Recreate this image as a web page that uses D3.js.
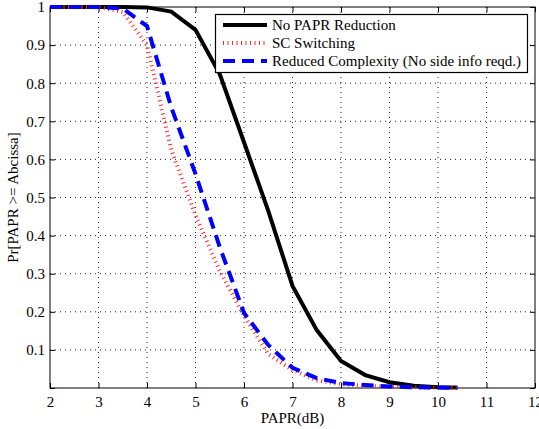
<!DOCTYPE html>
<html>
<head>
<meta charset="utf-8">
<title>PAPR CCDF</title>
<script src="https://cdn.jsdelivr.net/npm/d3@7"></script>
<style>
  body { margin: 0; background: #fff; }
  text { font-family: "Liberation Serif", "Times New Roman", serif; }
</style>
</head>
<body>
<script>
// data
var papr = [2, 2.5, 3, 3.5, 4, 4.5, 5, 5.5, 6, 6.5, 7, 7.5, 8, 8.5, 9, 9.5, 10, 10.4];
var noReduction = [1, 1, 1, 1, 0.999, 0.988, 0.94, 0.824, 0.645, 0.465, 0.268, 0.152, 0.071, 0.034, 0.015, 0.006, 0.002, 0.001];
var scSwitching = [1, 1, 1, 0.987, 0.9, 0.625, 0.454, 0.307, 0.19, 0.089, 0.047, 0.02, 0.01, 0.006, 0.003, 0.002, 0.001, 0];
var reducedCx = [1, 1, 1, 0.996, 0.95, 0.737, 0.562, 0.37, 0.197, 0.113, 0.053, 0.026, 0.013, 0.008, 0.004, 0.002, 0.001, 0];
var seriesNames = ["No PAPR Reduction", "SC Switching", "Reduced Complexity (No side info reqd.)"];
var xTicks = [2, 3, 4, 5, 6, 7, 8, 9, 10, 11, 12];
var yTicks = [0, 0.1, 0.2, 0.3, 0.4, 0.5, 0.6, 0.7, 0.8, 0.9, 1];

var margin = {top: 7, right: 4, bottom: 41, left: 50},
    W = 539, H = 429,
    width = W - margin.left - margin.right,
    height = H - margin.top - margin.bottom;

var svg = d3.select("body").append("svg")
  .attr("width", W).attr("height", H);

var g = svg.append("g")
  .attr("transform", "translate(" + margin.left + "," + margin.top + ")");

var x = d3.scaleLinear().domain([2, 12]).range([0, width]);
var y = d3.scaleLinear().domain([0, 1]).range([height, 0]);

// grid
g.append("g").selectAll("line").data(xTicks.slice(1, -1)).enter().append("line")
  .attr("x1", d => x(d)).attr("x2", d => x(d))
  .attr("y1", 0).attr("y2", height)
  .attr("stroke", "#222").attr("stroke-width", 1).attr("stroke-dasharray", "1,4");
g.append("g").selectAll("line").data(yTicks.slice(1, -1)).enter().append("line")
  .attr("y1", d => y(d)).attr("y2", d => y(d))
  .attr("x1", 0).attr("x2", width)
  .attr("stroke", "#222").attr("stroke-width", 1).attr("stroke-dasharray", "1,4");

// axes, ticks inward
var fmtY = d => d === 0 ? "" : (d === 1 ? "1" : d.toFixed(1));
g.append("g").attr("transform", "translate(0," + height + ")")
  .call(d3.axisBottom(x).tickValues(xTicks).tickSizeInner(-5).tickSizeOuter(0).tickPadding(8));
g.append("g")
  .call(d3.axisLeft(y).tickValues(yTicks).tickFormat(fmtY).tickSizeInner(-5).tickSizeOuter(0).tickPadding(5));
g.append("g")
  .call(d3.axisTop(x).tickValues(xTicks).tickFormat("").tickSizeInner(-5).tickSizeOuter(0));
g.append("g").attr("transform", "translate(" + width + ",0)")
  .call(d3.axisRight(y).tickValues(yTicks).tickFormat("").tickSizeInner(-5).tickSizeOuter(0));
g.selectAll(".domain").remove();
g.selectAll(".tick text").attr("font-size", 15).attr("fill", "#000")
  .attr("font-family", "'Liberation Serif', 'Times New Roman', serif");
g.selectAll(".tick line").attr("stroke", "#000");

g.append("rect").attr("width", width).attr("height", height)
  .attr("fill", "none").attr("stroke", "#000").attr("stroke-width", 1);

// curves
var line = d3.line().x((d, i) => x(papr[i])).y(d => y(d));
var styles = [
  {data: noReduction, color: "#000", w: 4, dash: null},
  {data: scSwitching, color: "#ff2a2a", w: 4, dash: "1,3.5"},
  {data: reducedCx, color: "#0000ff", w: 4, dash: "12,7"}
];
styles.forEach(function(s) {
  g.append("path").datum(s.data)
    .attr("d", line)
    .attr("fill", "none")
    .attr("stroke", s.color)
    .attr("stroke-width", s.w)
    .attr("stroke-dasharray", s.dash);
});

// legend
var lg = svg.append("g");
lg.append("rect").attr("x", 215.5).attr("y", 14.5).attr("width", 312).attr("height", 58)
  .attr("fill", "#fff").attr("stroke", "#000").attr("stroke-width", 1.2);
styles.forEach(function(s, i) {
  var yy = 25 + i * 18;
  lg.append("line").attr("x1", 223).attr("x2", 267).attr("y1", yy).attr("y2", yy)
    .attr("stroke", s.color).attr("stroke-width", s.w).attr("stroke-dasharray", s.dash);
  lg.append("text").attr("x", 272).attr("y", yy + 5)
    .attr("font-size", 15).text(seriesNames[i]);
});

// axis titles
svg.append("text").attr("x", margin.left + width / 2).attr("y", 423)
  .attr("text-anchor", "middle").attr("font-size", 15).text("PAPR(dB)");
svg.append("text")
  .attr("transform", "translate(18," + (margin.top + height / 2) + ") rotate(-90)")
  .attr("text-anchor", "middle").attr("font-size", 15).text("Pr[PAPR >= Abcissa]");
</script>
</body>
</html>
